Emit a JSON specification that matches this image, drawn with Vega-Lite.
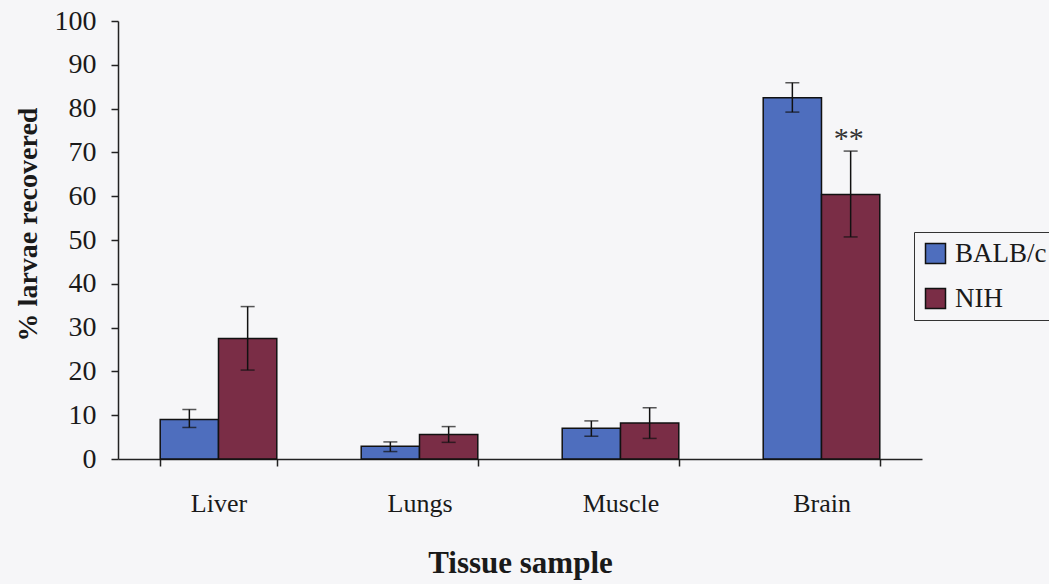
{
  "$schema": "https://vega.github.io/schema/vega-lite/v6.json",
  "width": 804,
  "height": 438,
  "autosize": {"type": "none"},
  "padding": {"left": 118, "top": 21, "right": 127, "bottom": 125},
  "background": "#f6f6f8",
  "config": {
    "view": {"stroke": null},
    "font": "Liberation Serif",
    "axis": {"labelFont": "Liberation Serif", "titleFont": "Liberation Serif", "labelColor": "#1a1a1a", "titleColor": "#1a1a1a", "domainColor": "#222", "tickColor": "#222", "domainWidth": 1.5, "tickWidth": 1.5, "grid": false},
    "legend": {"labelFont": "Liberation Serif"}
  },
  "data": {
    "values": [
      {"tissue": "Liver", "strain": "BALB/c", "value": 9.0, "lo": 7.2, "hi": 11.3},
      {"tissue": "Liver", "strain": "NIH", "value": 27.5, "lo": 20.3, "hi": 34.8},
      {"tissue": "Lungs", "strain": "BALB/c", "value": 2.9, "lo": 1.7, "hi": 3.9},
      {"tissue": "Lungs", "strain": "NIH", "value": 5.6, "lo": 3.8, "hi": 7.4},
      {"tissue": "Muscle", "strain": "BALB/c", "value": 7.0, "lo": 5.2, "hi": 8.7},
      {"tissue": "Muscle", "strain": "NIH", "value": 8.2, "lo": 4.7, "hi": 11.7},
      {"tissue": "Brain", "strain": "BALB/c", "value": 82.5, "lo": 79.2, "hi": 85.9},
      {"tissue": "Brain", "strain": "NIH", "value": 60.4, "lo": 50.7, "hi": 70.3, "sig": "**"}
    ]
  },
  "encoding": {
    "x": {
      "field": "tissue", "type": "nominal", "sort": ["Liver", "Lungs", "Muscle", "Brain"],
      "scale": {"paddingInner": 0.42, "paddingOuter": 0.21},
      "axis": {"title": "Tissue sample", "labelAngle": 0, "labelFontSize": 26, "labelPadding": 24, "tickBand": "extent", "tickSize": 7, "titleFontSize": 31, "titleFontWeight": "bold", "titlePadding": 32}
    },
    "xOffset": {"field": "strain", "type": "nominal", "sort": ["BALB/c", "NIH"], "scale": {"paddingInner": 0, "paddingOuter": 0}}
  },
  "layer": [
    {
      "mark": {"type": "bar", "stroke": "#111", "strokeWidth": 1.5},
      "encoding": {
        "y": {
          "field": "value", "type": "quantitative",
          "scale": {"domain": [0, 100], "nice": false},
          "axis": {"title": "% larvae recovered", "values": [0, 10, 20, 30, 40, 50, 60, 70, 80, 90, 100], "labelFontSize": 28, "labelPadding": 15, "tickSize": 7, "titleFontSize": 28, "titleFontWeight": "bold", "titlePadding": 12, "titleY": 203}
        },
        "color": {
          "field": "strain", "type": "nominal",
          "scale": {"domain": ["BALB/c", "NIH"], "range": ["#4e6ebe", "#7a2d46"]},
          "legend": {"title": null, "orient": "none", "legendX": 796, "legendY": 211, "symbolType": "square", "symbolSize": 400, "symbolStrokeColor": "#111", "symbolStrokeWidth": 1.5, "symbolOpacity": 1, "labelFontSize": 27, "labelFont": "Liberation Serif", "labelColor": "#1a1a1a", "labelOffset": 6, "rowPadding": 17, "padding": 8, "strokeColor": "#333", "fillColor": "#f6f6f8"}
        }
      }
    },
    {
      "mark": {"type": "rule", "color": "#111", "strokeWidth": 1.5},
      "encoding": {
        "y": {"field": "lo", "type": "quantitative"},
        "y2": {"field": "hi"}
      }
    },
    {
      "mark": {"type": "tick", "color": "#111", "thickness": 1.5, "size": 14},
      "encoding": {"y": {"field": "lo", "type": "quantitative"}}
    },
    {
      "mark": {"type": "tick", "color": "#111", "thickness": 1.5, "size": 14},
      "encoding": {"y": {"field": "hi", "type": "quantitative"}}
    },
    {
      "transform": [{"filter": "datum.sig"}],
      "mark": {"type": "text", "fontSize": 30, "font": "Liberation Serif", "baseline": "alphabetic", "dy": -3, "dx": -2, "color": "#333"},
      "encoding": {
        "y": {"field": "hi", "type": "quantitative"},
        "text": {"field": "sig"}
      }
    }
  ]
}
